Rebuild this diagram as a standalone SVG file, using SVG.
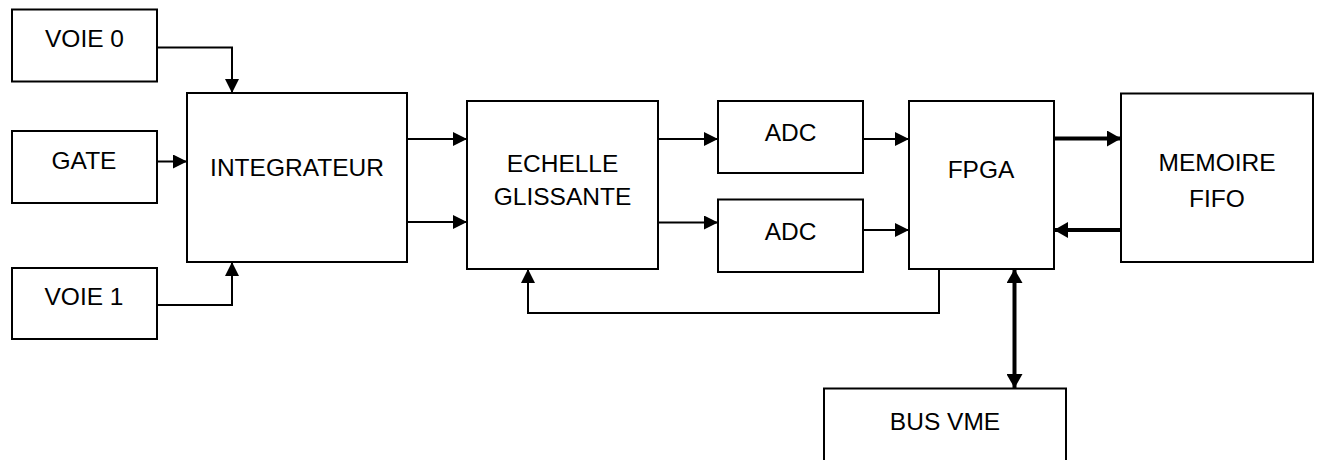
<svg xmlns="http://www.w3.org/2000/svg" width="1317" height="460" viewBox="0 0 1317 460">
<style>
.box{fill:#fff;stroke:#000;stroke-width:2}
.lbl{font-family:"Liberation Sans",Arial,sans-serif;font-size:24.5px;fill:#000;text-anchor:middle}
.c{fill:none;stroke:#000;stroke-width:2}
.t{fill:none;stroke:#000;stroke-width:4}
</style>
<defs>
<marker id="a" markerUnits="userSpaceOnUse" markerWidth="14" markerHeight="14" refX="14" refY="7" orient="auto-start-reverse"><path d="M0,0 L14,7 L0,14 z" fill="#000"/></marker>
<marker id="b" markerUnits="userSpaceOnUse" markerWidth="14" markerHeight="16" refX="14" refY="8" orient="auto-start-reverse"><path d="M0,0 L14,8 L0,16 z" fill="#000"/></marker>
</defs>
<rect width="1317" height="460" fill="#fff"/>
<g id="connectors">
<path class="c" d="M157,47.5 H232 V93" marker-end="url(#a)"/>
<path class="c" d="M157,161.5 H187" marker-end="url(#a)"/>
<path class="c" d="M157,305 H232 V262" marker-end="url(#a)"/>
<path class="c" d="M407,139 H467" marker-end="url(#a)"/>
<path class="c" d="M407,222 H467" marker-end="url(#a)"/>
<path class="c" d="M658,139 H718" marker-end="url(#a)"/>
<path class="c" d="M658,222.5 H718" marker-end="url(#a)"/>
<path class="c" d="M863,139 H909" marker-end="url(#a)"/>
<path class="c" d="M863,230 H909" marker-end="url(#a)"/>
<path class="c" d="M939,267 V313 H528 V269" marker-end="url(#a)"/>
<path class="t" d="M1054,138.5 H1121" marker-end="url(#b)"/>
<path class="t" d="M1121,230 H1054" marker-end="url(#b)"/>
<path class="t" d="M1014.5,269 V388" marker-start="url(#b)" marker-end="url(#b)"/>
</g>
<g id="voie0"><rect class="box" x="12" y="9.5" width="145" height="72"/><text class="lbl" x="84.5" y="47">VOIE 0</text></g>
<g id="gate"><rect class="box" x="12" y="131" width="145" height="72"/><text class="lbl" x="84" y="168.5">GATE</text></g>
<g id="voie1"><rect class="box" x="12" y="268" width="145" height="71"/><text class="lbl" x="84" y="305">VOIE 1</text></g>
<g id="integrateur"><rect class="box" x="187" y="93" width="220" height="169"/><text class="lbl" x="297" y="175.5">INTEGRATEUR</text></g>
<g id="echelle"><rect class="box" x="467" y="101" width="191" height="168"/><text class="lbl" x="562.5" y="171.5">ECHELLE</text><text class="lbl" x="562.5" y="205">GLISSANTE</text></g>
<g id="adc1"><rect class="box" x="718" y="101" width="145" height="72"/><text class="lbl" x="790.5" y="141">ADC</text></g>
<g id="adc2"><rect class="box" x="718" y="199.5" width="145" height="72.5"/><text class="lbl" x="790.5" y="240">ADC</text></g>
<g id="fpga"><rect class="box" x="909" y="101" width="145" height="168"/><text class="lbl" x="981" y="178">FPGA</text></g>
<g id="memoire"><rect class="box" x="1121" y="93.5" width="192" height="168.5"/><text class="lbl" x="1217" y="170.5">MEMOIRE</text><text class="lbl" x="1217" y="207">FIFO</text></g>
<g id="busvme"><rect class="box" x="824" y="388.5" width="242" height="100"/><text class="lbl" x="945" y="430">BUS VME</text></g>
</svg>
